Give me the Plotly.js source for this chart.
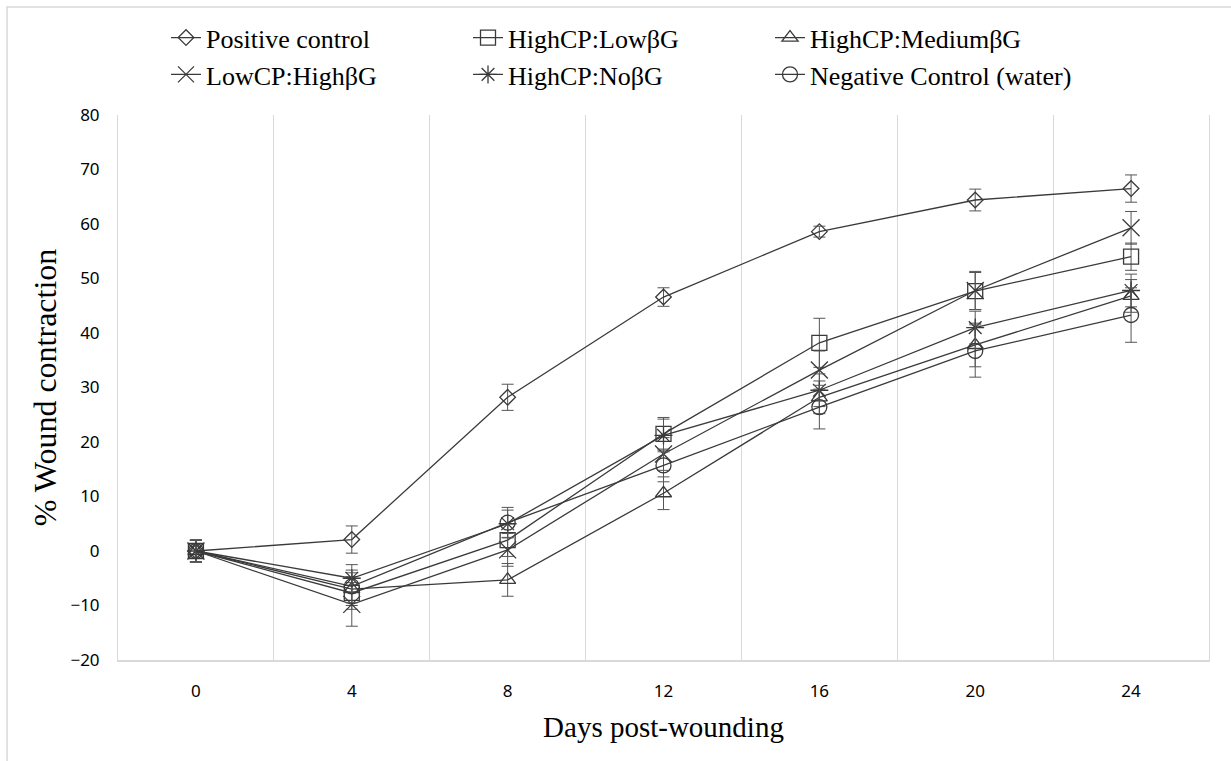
<!DOCTYPE html>
<html>
<head>
<meta charset="utf-8">
<script src="https://cdn.plot.ly/plotly-3.0.1.min.js"></script>
<style>html,body{margin:0;padding:0;background:#fff;}#chart{width:1231px;height:761px;}</style>
</head>
<body>
<div id="chart"></div>
<script>
const days = [0, 4, 8, 12, 16, 20, 24];
const seriesNames = ["Positive control", "HighCP:LowβG", "HighCP:MediumβG", "LowCP:HighβG", "HighCP:NoβG", "Negative Control (water)"];
const positiveControl = [0, 2.1, 28.2, 46.6, 58.6, 64.4, 66.5];
const positiveControlErr = [2, 2.5, 2.4, 1.7, 1, 2, 2.5];
const highCPLowBG = [0, -7.7, 2.0, 21.5, 38.2, 47.7, 54.0];
const highCPLowBGErr = [2, 3, 3, 3, 4.5, 3.4, 2.5];
const highCPMediumBG = [0, -7.0, -5.3, 10.6, 28.2, 37.8, 46.8];
const highCPMediumBGErr = [2, 3, 3, 3, 3, 4, 3];
const lowCPHighBG = [0, -9.8, 0.2, 17.8, 33.2, 47.8, 59.3];
const lowCPHighBGErr = [2, 4, 3, 3, 3.5, 3.5, 3];
const highCPNoBG = [0, -5.0, 5.0, 21.2, 29.5, 41.0, 47.8];
const highCPNoBGErr = [2, 2.5, 2.5, 3, 3, 3, 3];
const negativeControl = [0, -6.5, 5.2, 15.7, 26.4, 36.7, 43.3];
const negativeControlErr = [2, 3, 2.8, 3, 4, 4.8, 5];

const values = [positiveControl, highCPLowBG, highCPMediumBG, lowCPHighBG, highCPNoBG, negativeControl];
const errs = [positiveControlErr, highCPLowBGErr, highCPMediumBGErr, lowCPHighBGErr, highCPNoBGErr, negativeControlErr];
const symbols = ["diamond-open", "square-open", "triangle-up-open", "x-thin-open", "asterisk-open", "circle-open"];
const sizes = [12, 15, 14, 17, 15, 15];
const col = "#3a3a3a";
const serif = "Liberation Serif";

const traces = values.map((v, i) => ({
  type: "scatter",
  mode: "lines+markers",
  name: seriesNames[i],
  x: days,
  y: v,
  line: {color: col, width: 1.3},
  marker: {symbol: symbols[i], size: sizes[i], color: col, line: {color: col, width: 1.3}},
  error_y: {type: "data", array: errs[i], visible: true, color: "#555", thickness: 1, width: 6}
}));

const layout = {
  width: 1231, height: 761,
  paper_bgcolor: "#fff", plot_bgcolor: "#fff",
  font: {family: serif, size: 26, color: "#000"},
  margin: {l: 118, r: 22, t: 115, b: 101},
  showlegend: true,
  legend: {
    orientation: "h", x: 0.044, xanchor: "left", y: 1.185, yanchor: "top",
    entrywidth: 257, entrywidthmode: "pixels",
    font: {family: serif, size: 26, color: "#000"},
    tracegroupgap: 0, itemwidth: 30
  },
  xaxis: {
    range: [-2, 26], tickvals: days, ticktext: days.map(String),
    showgrid: false, zeroline: false,
    showline: true, linecolor: "#d9d9d9", linewidth: 1.5,
    ticks: "", ticklabelstandoff: 15,
    minor: {tick0: 2, dtick: 4, showgrid: true, gridcolor: "#d9d9d9", gridwidth: 1, ticks: ""},
    tickfont: {family: "Noto Sans", size: 17, color: "#000"},
    title: {text: "Days post-wounding", font: {family: serif, size: 29, color: "#000"}, standoff: 16}
  },
  yaxis: {
    range: [-20, 80], dtick: 10, tick0: 0,
    showgrid: false, zeroline: false,
    showline: true, mirror: true, linecolor: "#d9d9d9", linewidth: 1,
    ticks: "", ticklabelstandoff: 14,
    tickfont: {family: "Noto Sans", size: 17, color: "#000"},
    title: {text: "% Wound contraction", font: {family: serif, size: 32, color: "#000"}, standoff: 4}
  },
  shapes: [{
    type: "rect", xref: "paper", yref: "paper",
    x0: -0.1017, x1: 1.03, y0: -0.2, y1: 1.198,
    line: {color: "#d9d9d9", width: 1.5}, fillcolor: "rgba(0,0,0,0)", layer: "below"
  }]
};

Plotly.newPlot("chart", traces, layout, {staticPlot: true, displayModeBar: false});
</script>
</body>
</html>
